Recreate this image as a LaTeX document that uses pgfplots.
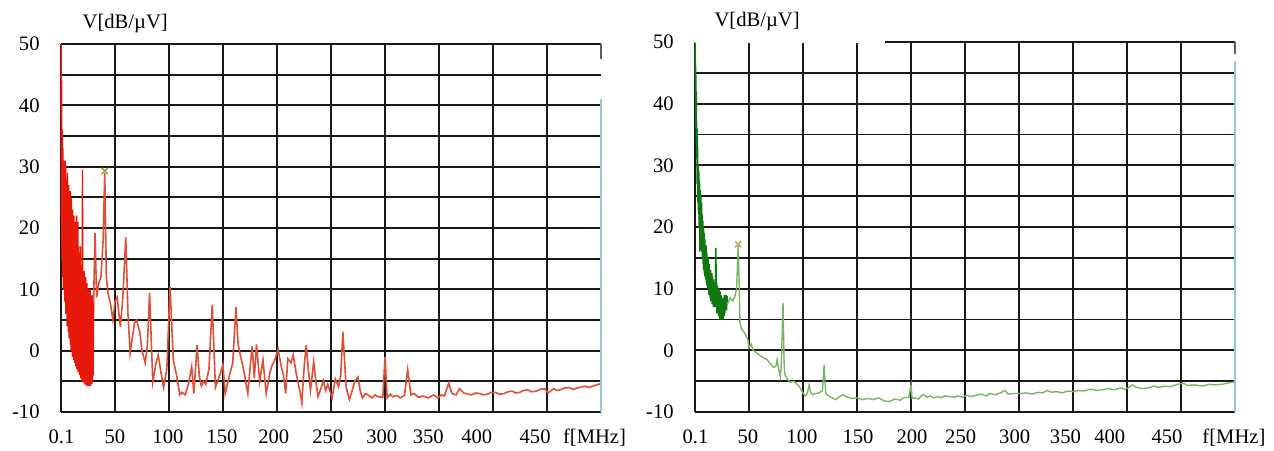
\documentclass[border=0pt]{standalone}
\usepackage{fontspec}
\setmainfont{Liberation Serif}
\usepackage{pgfplots}
\pgfplotsset{compat=1.18}
\definecolor{gridc}{RGB}{25,25,25}
\definecolor{edgeblue}{RGB}{150,200,215}
\definecolor{tracered}{RGB}{222,80,55}
\definecolor{blobred}{RGB}{232,25,10}
\definecolor{darkgreen}{RGB}{15,120,15}
\definecolor{lightgreen}{RGB}{120,182,100}
\definecolor{markolive}{RGB}{140,160,60}
\definecolor{marktan}{RGB}{190,165,95}
\pgfplotsset{
  panel/.style={
    scale only axis, width=270pt,
    xmin=0, xmax=500, ymin=-10, ymax=50,
    clip=false,
    xtick={0,50,...,450}, xticklabels={},
    ytick={-10,-5,...,50}, yticklabels={-10,,0,,10,,20,,30,,40,,50},
    grid=major, major grid style={draw=gridc, line width=0.9pt},
    axis line style={draw=none},
    major tick length=0pt,
    tick label style={font=\fontsize{10.3}{12}\selectfont, inner sep=0pt},
    yticklabel style={anchor=east, xshift=-10.5pt},
    extra x tick style={grid=none, major tick length=0pt, xticklabel style={anchor=base, yshift=-15.5pt}},
    title style={font=\fontsize{10.3}{12}\selectfont, anchor=base, yshift=2pt, inner sep=0pt},
    /pgf/number format/assume math mode=true,
  }
}
\begin{document}
\begin{tikzpicture}
\useasboundingbox (0,0) rectangle (637pt,225pt);
% ---------------- left panel ----------------
\begin{axis}[panel, at={(30.5pt,19pt)}, anchor=south west, height=184pt,
  extra x ticks={0.5,50,99,149,197,247,297,340,385,439,494},
  extra x tick labels={0.1,50,100,150,200,250,300,350,400,450,f[MHz]},
  title={V[dB/µV]}, title style={at={(0.119,1)}}]
\addplot[blobred, line width=0.7pt] coordinates {
(0.1,50) (0.3,22) (0.6,44) (0.9,15) (1.2,36) (1.5,12) (1.8,33) (2.1,10) (2.4,30) (2.7,14)
(3.0,31) (3.3,8) (3.6,29) (3.9,9) (4.2,31) (4.5,6) (4.8,28) (5.1,7) (5.4,27) (5.7,4)
(6.0,29) (6.3,5) (6.6,26) (6.9,3) (7.2,27) (7.5,2) (7.8,25) (8.1,4) (8.4,26) (8.7,1)
(9.0,24) (9.3,0) (9.6,25) (9.9,2) (10.2,22) (10.5,-1) (10.8,23) (11.1,0) (11.4,21) (11.7,-1.5)
(12.0,22) (12.3,-1) (12.6,20) (12.9,-2) (13.2,21) (13.5,-2.5) (13.8,19) (14.1,-1) (14.4,22) (14.7,-3)
(15.0,18) (15.3,-2) (15.6,21) (15.9,-3.5) (16.2,17) (16.5,-3) (16.8,16) (17.1,-4) (17.4,15) (17.7,-3.5)
(18.0,17) (18.3,-4.5) (18.6,14) (18.9,-4) (19.2,13) (19.5,-5) (19.9,29.5) (20.2,-4.5) (20.5,13) (20.8,-5)
(21.1,12) (21.4,-5.2) (21.7,13) (22.0,-5.5) (22.3,11) (22.6,-5.3) (22.9,12) (23.2,-5.6) (23.5,10) (23.8,-5.5)
(24.1,11) (24.4,-5.8) (24.7,10) (25.0,-5.6) (25.3,9) (25.6,-5.8) (25.9,10) (26.2,-5.7) (26.5,9) (26.8,-5.8)
(27.1,10) (27.4,-5.6) (27.7,8) (28.0,-5.5) (28.3,9) (28.6,-5.4) (28.9,8) (29.2,-5) (29.5,9) (29.8,-4) (30.2,8)
};
\addplot[tracered, line width=0.8pt] coordinates {
(30.2,8) (31.5,19.2) (33,8.7) (35,11) (37,12) (39,18) (40.5,29) (42,12) (43.5,9.4) (46,7.5) (48,5)
(50,8) (52,8.7) (55,3.9) (57,8) (60,18.5) (62,6) (64,-0.4) (66,2) (68,4.5) (70,5) (73,3) (75,0) (78,-2)
(80,1) (82,9.4) (85,-5.1) (88,-2) (90,-0.7) (93,-4) (95,-6) (98,-3) (101,10.4) (104,-1.5) (107,-4)
(110,-7.2) (112,-6.8) (115,-7.2) (118,-5.5) (121,-2.6) (123,-7) (126,0.9) (128,-4) (130,-5.8) (132,-5) (134,-5.5)
(137,-3) (140,7.5) (143,-6) (145,-5) (147,-4) (150,-2.3) (152,-7) (154,-5.5) (156,-4) (159,-2) (162,7.1) (164,1) (166,-0.7)
(169,-3) (171,-5) (173,-7) (175,-3) (177,0.7) (179,-4.5) (181,1) (184,-5) (187,-1.5) (190,-7) (193,-4)
(195,-2.6) (198,-1.5) (201,0.2) (204,-2.6) (206,-4) (208,-7) (210,-1.3) (213,-2) (215,-0.7) (218,-3.9)
(221,-6.4) (223,-8.5) (225,-3) (227,0.9) (229,-3) (231,-6.5) (234,-1.8) (236,-5) (238,-7.5) (241,-6) (243,-4.9) (245,-6.5) (247,-5.5) (251,-7.7)
(254,-4.6) (257,-5.9) (259,-4) (261,3.1) (264,-5.9) (267,-8) (270,-6.3) (272,-5) (275,-4.3) (277,-6.5) (279,-7.7) (282,-7) (284,-7.2)
(288,-7.7) (291,-7.2) (293,-7.5) (298,-7.6) (300,-1) (302,-7.7) (305,-7.1) (307,-7.5) (311,-7.3) (314,-7.7) (318,-7.3) (321,-3.1)
(324,-7.2) (327,-7) (331,-7.6) (335,-7.4) (340,-7.7) (345,-7.2) (349,-7.7) (352,-7.2) (355,-7.4) (359,-5.3) (362,-7) (366,-7.2)
(369,-6.2) (373,-6.9) (377,-7.1) (380,-7.2) (384,-6.9) (388,-7) (391,-7.2) (395,-7.1) (398,-6.8) (402,-6.8) (406,-7.1) (410,-7) (414,-6.7) (418,-6.6) (421,-6.9) (425,-6.8)
(428,-6.5) (432,-6.4) (436,-6.7) (440,-6.6) (444,-6.3) (448,-6.2) (451,-6.9) (456,-6.2) (459,-6.5) (462,-6.4) (466,-6.1) (470,-6.0) (474,-6.3) (478,-6.1) (482,-5.9) (485,-5.8)
(489,-6) (492,-5.8) (497,-5.5) (500,-5.4)
};
\addplot[only marks, mark=x, mark size=2.2pt, markolive, line width=0.7pt] coordinates {(40.5,29.3)};
\draw[edgeblue, line width=1pt] (axis cs:500,-10) -- (axis cs:500,41);
\draw[gridc!70, line width=0.9pt] (axis cs:500,50) -- (axis cs:500,47.5);
\end{axis}
% ---------------- right panel ----------------
\begin{axis}[panel, at={(347.5pt,19pt)}, anchor=south west, height=185pt,
  extra x ticks={0.5,49,99,151,201,246,296,343,384,437,499},
  extra x tick labels={0.1,50,100,150,200,250,300,350,400,450,f[MHz]},
  title={V[dB/µV]}, title style={at={(0.115,1)}}]
\addplot[darkgreen, line width=0.8pt] coordinates {
(0.1,50) (0.3,43) (0.6,46) (0.9,36) (1.2,42) (1.5,31) (1.8,36) (2.1,27) (2.4,33) (2.7,24)
(3.0,30) (3.3,22) (3.6,29) (3.9,20) (4.2,27) (4.5,16) (4.8,26) (5.1,19) (5.4,25) (5.7,17)
(6.0,24) (6.3,16) (6.6,22) (6.9,15) (7.2,21) (7.5,14) (7.8,20) (8.1,13) (8.4,19) (8.7,12.5)
(9.0,18) (9.3,12) (9.6,17) (9.9,11.5) (10.2,17) (10.5,11) (10.8,16) (11.1,10.5) (11.4,15) (11.7,10)
(12.0,15) (12.3,10) (12.6,14) (12.9,9) (13.2,14) (13.5,9) (13.8,13) (14.1,8.5) (14.4,13) (14.7,8)
(15.0,12) (15.3,8) (15.6,12.5) (15.9,7.5) (16.2,12) (16.5,8) (16.8,11.5) (17.1,7) (17.4,11) (17.7,7.5)
(18.0,11) (18.3,7) (18.6,11.5) (18.9,7) (19.3,16.6) (19.6,8) (20.0,11) (20.4,6) (20.8,10.5) (21.2,6)
(21.6,10) (22.0,5.5) (22.4,10) (22.8,5) (23.2,9.5) (23.6,5) (24.0,9) (24.4,5) (24.8,8.5) (25.2,5)
(25.6,8) (26.0,5) (26.4,8.5) (26.8,5.5) (27.2,9) (27.6,6) (28.0,8.8) (28.4,6.5) (28.8,9) (29.2,6.5)
(29.6,8.8) (30.0,7.5)
};
\addplot[lightgreen, line width=0.7pt] coordinates {
(30,7.5) (32.6,8.5) (35,8) (37,8.8) (38.5,10) (40,17.1) (41,10) (41.6,4.5) (43,3.5) (46,2.8)
(49,1.7) (50,0.4) (52,1) (54,0) (57,-0.4) (60,-0.8) (63,-1.2) (66.6,-1.5) (70,-2.2) (73,-2.8)
(75,-2.5) (76,-1.5) (78,-3.5) (79,-4.3) (80,-2) (81.5,7.7) (82.5,-2) (83,-3.8) (85,-4.5) (88,-5.2)
(91,-5) (94,-5.4) (97,-6) (100,-6.9) (102,-7.4) (104,-7) (105.6,-5.6) (107,-6.8) (109,-7.2)
(112,-7) (115,-6.9) (118,-6.5) (119.5,-2.4) (121,-6.8) (122,-7.2) (126,-7.6) (130,-8) (134,-7.5)
(137,-7.2) (141,-7.6) (145,-7.8) (150,-7.7) (155,-8) (160,-7.8) (165,-8) (170,-7.7) (175,-8.2)
(180,-8.3) (185,-7.9) (190,-8.1) (193,-7.7) (198,-7.6) (200,-5.6) (201,-7.8) (203,-7.7) (207,-7.9)
(210,-7.3) (212,-7.2) (215,-7.6) (218,-7.4) (221,-7.7) (225,-7.5) (228,-7.7) (231,-7.4) (236,-7.5)
(240,-7.6) (243,-7.4) (248,-7.6) (252,-7.3) (255,-7.5) (260,-7.3) (265,-7.1) (270,-7.4) (273,-7)
(278,-7.2) (283,-6.9) (287,-6.5) (290,-7.1) (295,-7) (302,-7) (307,-6.9) (312,-7.1) (318,-6.8)
(322,-6.9) (326,-6.5) (330,-6.8) (335,-6.7) (340,-6.9) (345,-6.6) (350,-6.7) (355,-6.5) (360,-6.6)
(366,-6.3) (372,-6.5) (377,-6.4) (383,-6.2) (388,-6.4) (394,-6.1) (398,-6.3) (401,-6.1) (405,-5.6)
(409,-6) (414,-6.2) (420,-6.1) (425,-5.8) (430,-6) (435,-5.8) (440,-5.9) (445,-5.6) (452,-5.3)
(456,-5.7) (462,-5.6) (470,-5.8) (476,-5.5) (482,-5.6) (488,-5.5) (494,-5.3) (500,-5.1)
};
\addplot[only marks, mark=x, mark size=2.2pt, marktan, line width=0.7pt] coordinates {(40,17.2)};
\draw[white, line width=1.4pt] (axis cs:0.3,50) -- (axis cs:176,50);
\draw[edgeblue, line width=1pt] (axis cs:500,-10) -- (axis cs:500,47);
\draw[gridc!70, line width=0.9pt] (axis cs:500,50) -- (axis cs:500,48);
\end{axis}
\end{tikzpicture}
\end{document}
